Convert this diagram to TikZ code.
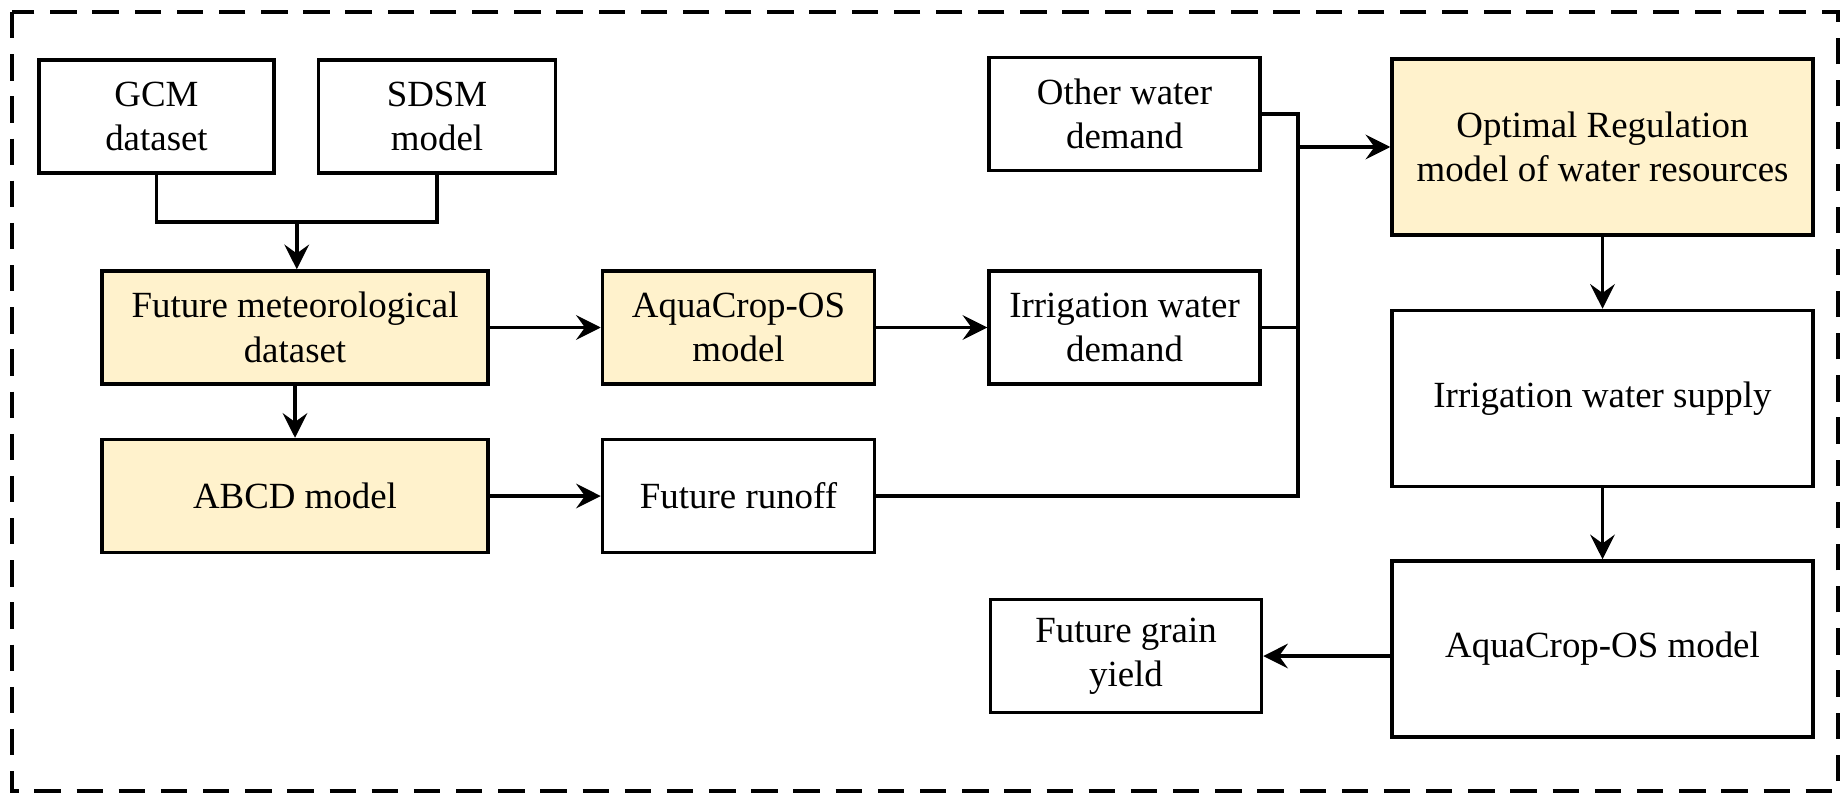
\documentclass[tikz,border=0pt]{standalone}
\usepackage{fontspec}
\setmainfont{Liberation Serif}
\usepackage{tikz}
\usetikzlibrary{arrows.meta, positioning, calc}
\definecolor{mydark}{RGB}{0,0,0}
\definecolor{hdryellow}{RGB}{255,242,204}
\tikzset{
  box/.style={rectangle, draw=mydark, fill=white, align=center,
    minimum width=2.71cm, minimum height=1.13cm, line width=1pt,
    inner sep=1pt},
  ybox/.style={box, fill=hdryellow},
  bigbox/.style={box, minimum width=4.21cm, minimum height=1.76cm},
  arrow/.style={-{Stealth[length=7pt, width=7pt, inset=2.5pt]}, line width=1pt, color=mydark},
  line/.style={line width=1pt, color=mydark},
  frame/.style={line width=1pt, dash pattern=on 7.5pt off 4.5pt}
}

\begin{document}
\begin{tikzpicture}[font=\fontsize{10.5}{12.6}\selectfont]
  \useasboundingbox (0,0) rectangle (18.45,-7.94);
  \draw[frame] (0.12,-0.12) rectangle (18.38,-7.91);

  % left part
  \node[box, minimum width=2.35cm] (gcm) at (1.565,-1.165) {GCM\\dataset};
  \node[box, minimum width=2.37cm, right=0.41cm of gcm] (sdsm) {SDSM\\model};
  \node[ybox, minimum width=3.86cm] (fmd) at (2.95,-3.275) {Future meteorological\\dataset};
  \node[ybox, minimum width=3.86cm, below=0.52cm of fmd] (abcd) {ABCD model};
  \node[ybox, minimum width=2.72cm, right=1.11cm of fmd] (aqua) {AquaCrop-OS\\model};
  \node[box, minimum width=2.72cm, right=1.11cm of abcd] (runoff) {Future runoff};

  % middle column
  \node[box, right=1.11cm of aqua] (irrdem) {Irrigation water\\demand};
  \node[box, above=0.97cm of irrdem] (other) {Other water\\demand};

  % right column
  \node[ybox, bigbox, fill=hdryellow] (opt) at (16.025,-1.47) {Optimal Regulation\\model of water resources};
  \node[bigbox, below=0.72cm of opt] (supply) {Irrigation water supply};
  \node[bigbox, below=0.71cm of supply] (aquaos) {AquaCrop-OS model};
  \node[box, left=1.27cm of aquaos, yshift=-0.07cm] (grain) {Future grain\\yield};

  % Paths
  \coordinate (mg) at ($(gcm.south)!0.5!(sdsm.south)+(0,-0.47)$);
  \draw[line] (gcm.south) |- (mg) -| (sdsm.south);
  \draw[arrow] (mg) -- (mg |- fmd.north);
  \draw[arrow] (fmd) -- (abcd);
  \draw[arrow] (fmd) -- (aqua);
  \draw[arrow] (abcd) -- (runoff);
  \draw[arrow] (aqua) -- (irrdem);

  % junction
  \coordinate (jn) at ($(other.east)+(0.36,0)$);
  \draw[line] (other.east) -- (jn) |- (runoff.east);
  \draw[line] (irrdem.east) -- (irrdem.east -| jn);
  \draw[arrow] (jn |- opt.west) -- (opt.west);

  \draw[arrow] (opt) -- (supply);
  \draw[arrow] (supply) -- (aquaos);
  \draw[arrow] (aquaos.west |- grain.east) -- (grain.east);
\end{tikzpicture}
\end{document}
